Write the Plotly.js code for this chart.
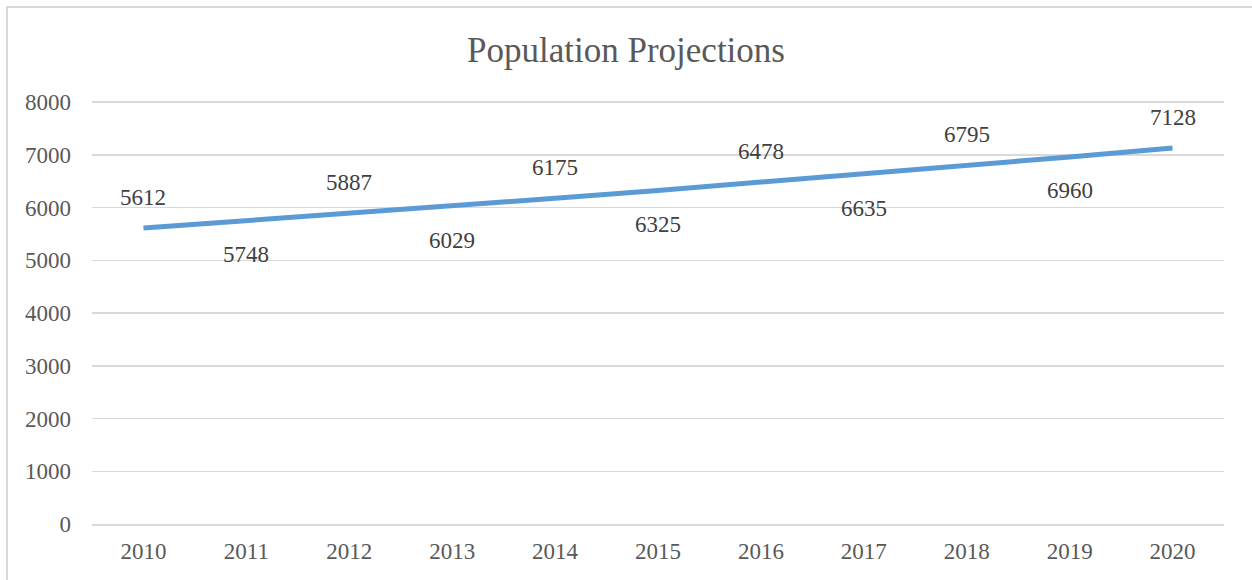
<!DOCTYPE html>
<html>
<head>
<meta charset="utf-8">
<script src="https://cdn.plot.ly/plotly-3.0.1.min.js"></script>
<style>
  html, body { margin: 0; padding: 0; background: #ffffff; overflow: hidden; }
  #frame { position: absolute; left: 6px; top: 6px; width: 1270px; height: 600px; border: 2px solid #d9d9d9; box-sizing: border-box; }
  #chart { position: absolute; left: 0; top: 0; width: 1252px; height: 580px; }
</style>
</head>
<body>
<div id="frame"></div>
<div id="chart"></div>
<script>
const years = ['2010','2011','2012','2013','2014','2015','2016','2017','2018','2019','2020'];
const population = [5612, 5748, 5887, 6029, 6175, 6325, 6478, 6635, 6795, 6960, 7128];
const yTicks = [0, 1000, 2000, 3000, 4000, 5000, 6000, 7000, 8000];

const fontFam = 'Liberation Serif';

const labelAnnotations = population.map((v, i) => ({
  x: i,
  y: v,
  xref: 'x',
  yref: 'y',
  text: String(v),
  showarrow: false,
  xanchor: 'center',
  yanchor: 'middle',
  yshift: (i % 2 === 0) ? 31 : -34,
  font: { family: fontFam, size: 23, color: '#404040' }
}));

const trace = {
  type: 'scatter',
  mode: 'lines',
  x: years,
  y: population,
  line: { color: '#5b9bd5', width: 5 },
  hoverinfo: 'skip'
};

const layout = {
  width: 1252, height: 580,
  margin: { l: 92, r: 28, t: 100, b: 56 },
  paper_bgcolor: 'rgba(0,0,0,0)',
  plot_bgcolor: 'rgba(0,0,0,0)',
  showlegend: false,
  title: {
    text: 'Population Projections',
    x: 0.5, xanchor: 'center',
    y: 1 - 50/580, yanchor: 'middle',
    font: { family: fontFam, size: 35, color: '#595959' }
  },
  xaxis: {
    type: 'category',
    range: [-0.5, 10.5],
    showgrid: false,
    showline: true, linecolor: '#d9d9d9', linewidth: 1.5,
    ticks: '', ticklabelstandoff: 6,
    tickfont: { family: fontFam, size: 23, color: '#595959' },
    zeroline: false
  },
  yaxis: {
    range: [0, 8040],
    tickvals: yTicks,
    ticktext: yTicks.map(String),
    showgrid: true, gridcolor: '#d9d9d9', gridwidth: 1.5,
    zeroline: false, showline: false,
    ticks: '', ticklabelstandoff: 20,
    tickfont: { family: fontFam, size: 23, color: '#595959' }
  },
  annotations: labelAnnotations
};

Plotly.newPlot('chart', [trace], layout, { displayModeBar: false, staticPlot: true });
</script>
</body>
</html>
